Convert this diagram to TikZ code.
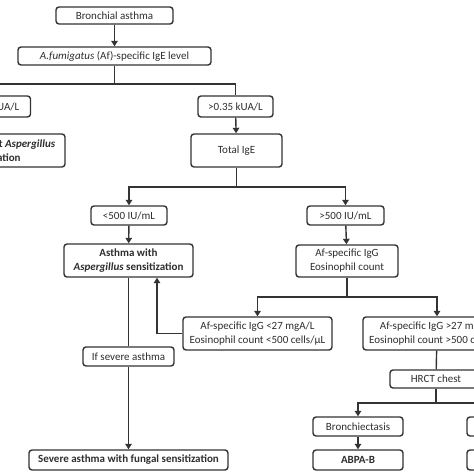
\documentclass[tikz,border=0pt]{standalone}
\usepackage{fontspec}
\setmainfont{Carlito}
\usetikzlibrary{arrows.meta}
\definecolor{linec}{HTML}{333333}
\definecolor{textc}{HTML}{2E2E2E}
\tikzset{
  box/.style={draw=linec, line width=1.4pt, rounded corners=3pt, align=center,
    inner sep=0pt, font=\fontsize{11}{14}\selectfont, text=textc},
  bbox/.style={box, font=\fontsize{11}{14}\selectfont\bfseries},
  arr/.style={-{Triangle[width=6.5pt,length=5.5pt]}, line width=1.4pt, draw=linec},
  ln/.style={line width=1.4pt, draw=linec}
}
\begin{document}
\begin{tikzpicture}[x=1pt,y=-1pt]
\useasboundingbox (0,0) rectangle (474,474);
\clip (0,0) rectangle (474,474);
\fill[white] (0,0) rectangle (474,474);
\node[box, minimum width=117pt, minimum height=17pt] (bronch) at (114.5,15.5) {Bronchial asthma};
\node[box, minimum width=193pt, minimum height=18pt] (afige) at (114.5,56) {\textit{A.fumigatus} (Af)-specific IgE level};
\node[box, minimum width=77pt, minimum height=21pt] (low) at (-8,106.5) {<0.35 kUA/L};
\node[box, minimum width=75pt, minimum height=21pt] (high) at (235.5,106.5) {>0.35 kUA/L};
\node[bbox, minimum width=146pt, minimum height=33pt] (noasp) at (-8,150.5) {Asthma without \textit{Aspergillus}\\sensitization};
\node[box, minimum width=91pt, minimum height=33pt] (totige) at (236.5,150.5) {Total IgE};
\node[box, minimum width=76pt, minimum height=19pt] (lt) at (129,215.5) {<500 IU/mL};
\node[box, minimum width=77pt, minimum height=19pt] (gt) at (345.5,215.5) {>500 IU/mL};
\node[bbox, minimum width=129pt, minimum height=33pt] (asthasp) at (128.5,260.5) {Asthma with\\\textit{Aspergillus} sensitization};
\node[box, minimum width=102pt, minimum height=32pt] (afigg) at (347,261) {Af-specific IgG\\Eosinophil count};
\node[box, minimum width=149pt, minimum height=33pt] (igglow) at (257.5,333.5) {Af-specific IgG <27 mgA/L\\Eosinophil count <500 cells/µL};
\node[box, minimum width=148pt, minimum height=33pt] (igghigh) at (437,333.5) {Af-specific IgG >27 mgA/L\\Eosinophil count >500 cells/µL};
\node[box, minimum width=91pt, minimum height=19pt] (severe) at (128.5,356.5) {If severe asthma};
\node[bbox, minimum width=199pt, minimum height=20pt] (sfs) at (128.5,460) {Severe asthma with fungal sensitization};
\node[box, minimum width=92pt, minimum height=18pt] (hrct) at (436,379) {HRCT chest};
\node[box, minimum width=90pt, minimum height=19pt] (bronchi) at (358,426.5) {Bronchiectasis};
\node[bbox, minimum width=90pt, minimum height=20pt] (abpab) at (358,460) {ABPA-B};
\node[box, minimum width=90pt, minimum height=19pt] (rb1) at (512,426.5) {};
\node[box, minimum width=90pt, minimum height=20pt] (rb2) at (512,460) {};
\coordinate (j1) at (114.5,84);
\coordinate (j2) at (236.5,187);
\coordinate (j3) at (347,297);
\coordinate (j4) at (436,403);
\draw[arr] (bronch) -- (afige);
\draw[ln] (afige) -- (j1);
\draw[ln] (j1) -| (low.north);
\draw[ln] (j1) -| (high.north);
\draw[arr] (low) -- (noasp);
\draw[arr] (high) -- (totige);
\draw[ln] (totige) -- (j2);
\draw[arr] (j2) -| (lt.north);
\draw[arr] (j2) -| (gt.north);
\draw[arr] (lt) -- (asthasp);
\draw[arr] (gt) -- (afigg);
\draw[ln] (afigg) -- (j3);
\draw[arr] (j3) -| (igglow.north);
\draw[arr] (j3) -| (igghigh.north);
\draw[arr] (igglow.west) -| ([xshift=28.5pt]asthasp.south);
\draw[ln] (asthasp) -- (severe);
\draw[arr] (severe) -- (sfs);
\draw[ln] (igghigh) -- (hrct);
\draw[ln] (hrct) -- (j4);
\draw[arr] (j4) -| (bronchi.north);
\draw[arr] (j4) -| (rb1.north);
\draw[arr] (bronchi) -- (abpab);
\draw[arr] (rb1) -- (rb2);
\end{tikzpicture}
\end{document}
